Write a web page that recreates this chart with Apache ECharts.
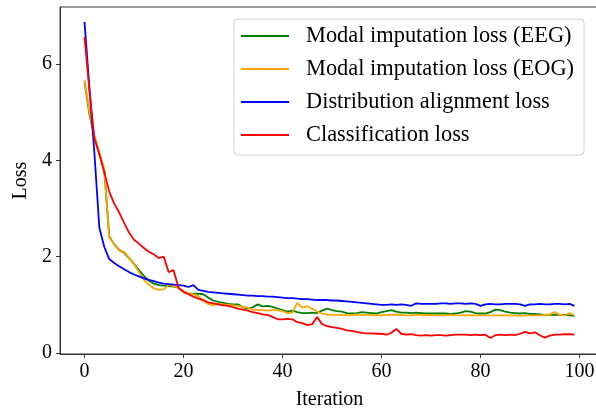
<!DOCTYPE html>
<html>
<head>
<meta charset="utf-8">
<script src="https://cdn.jsdelivr.net/npm/echarts@6/dist/echarts.min.js"></script>
<style>
  html, body { margin: 0; padding: 0; background: #fff; }
  #chart { width: 596px; height: 412px; }
</style>
</head>
<body>
<div id="chart"></div>
<script>
// iteration index on the x axis (0..99)
const iterations = Array.from({ length: 100 }, (_, i) => i)

const eegLoss = [
  5.62, 4.95, 4.50, 4.15, 3.80, 2.42, 2.26, 2.14, 2.08, 1.97,
  1.85, 1.72, 1.60, 1.50, 1.44, 1.41, 1.40, 1.39, 1.38, 1.36,
  1.27, 1.24, 1.23, 1.23, 1.22, 1.15, 1.09, 1.06, 1.04, 1.02,
  1.01, 1.01, 0.95, 0.92, 0.95, 1.01, 0.97, 0.98, 0.96, 0.92,
  0.89, 0.86, 0.88, 0.85, 0.83, 0.83, 0.84, 0.83, 0.88, 0.92,
  0.89, 0.87, 0.86, 0.83, 0.82, 0.83, 0.85, 0.84, 0.83, 0.82,
  0.85, 0.87, 0.89, 0.86, 0.84, 0.84, 0.83, 0.84, 0.83, 0.82,
  0.82, 0.82, 0.82, 0.82, 0.81, 0.82, 0.84, 0.87, 0.86, 0.83,
  0.82, 0.82, 0.85, 0.90, 0.89, 0.86, 0.84, 0.83, 0.82, 0.83,
  0.81, 0.81, 0.80, 0.79, 0.79, 0.79, 0.79, 0.79, 0.78, 0.77
]

const eogLoss = [
  5.66, 5.00, 4.50, 4.15, 3.80, 2.40, 2.25, 2.13, 2.10, 1.98,
  1.85, 1.68, 1.52, 1.42, 1.34, 1.31, 1.32, 1.42, 1.39, 1.36,
  1.28, 1.24, 1.22, 1.18, 1.08, 1.02, 0.99, 1.03, 1.01, 1.00,
  0.99, 0.98, 0.96, 0.94, 0.90, 0.89, 0.89, 0.88, 0.89, 0.89,
  0.87, 0.83, 0.84, 1.04, 0.94, 0.97, 0.92, 0.86, 0.82, 0.80,
  0.79, 0.79, 0.79, 0.78, 0.79, 0.80, 0.79, 0.79, 0.79, 0.78,
  0.78, 0.79, 0.79, 0.80, 0.79, 0.78, 0.78, 0.79, 0.79, 0.78,
  0.79, 0.78, 0.78, 0.78, 0.79, 0.78, 0.78, 0.78, 0.78, 0.78,
  0.78, 0.78, 0.78, 0.78, 0.78, 0.78, 0.78, 0.78, 0.77, 0.78,
  0.78, 0.78, 0.78, 0.79, 0.80, 0.85, 0.79, 0.78, 0.83, 0.78
]

const alignLoss = [
  6.87, 5.50, 4.15, 2.60, 2.20, 1.95, 1.87, 1.80, 1.74, 1.68,
  1.63, 1.59, 1.55, 1.52, 1.49, 1.46, 1.44, 1.43, 1.42, 1.41,
  1.40, 1.37, 1.41, 1.31, 1.29, 1.27, 1.26, 1.25, 1.24, 1.23,
  1.22, 1.21, 1.20, 1.19, 1.19, 1.18, 1.18, 1.17, 1.17, 1.16,
  1.15, 1.14, 1.14, 1.13, 1.12, 1.12, 1.11, 1.10, 1.10, 1.10,
  1.09, 1.09, 1.08, 1.07, 1.06, 1.05, 1.04, 1.03, 1.02, 1.01,
  1.00, 1.00, 1.01, 1.00, 1.01, 1.00, 0.98, 1.03, 1.02, 1.02,
  1.02, 1.02, 1.03, 1.03, 1.02, 1.03, 1.03, 1.02, 1.03, 1.02,
  0.98, 1.01, 1.02, 1.01, 1.01, 1.02, 1.02, 1.02, 1.01, 0.98,
  1.01, 1.01, 1.02, 1.01, 1.01, 1.02, 1.02, 1.01, 1.02, 0.98
]

const clsLoss = [
  6.56, 5.45, 4.45, 4.12, 3.75, 3.35, 3.10, 2.92, 2.70, 2.50,
  2.35, 2.27, 2.18, 2.10, 2.05, 1.97, 2.00, 1.68, 1.72, 1.35,
  1.27, 1.22, 1.17, 1.13, 1.10, 1.05, 1.03, 1.01, 0.99, 0.98,
  0.95, 0.92, 0.90, 0.88, 0.85, 0.83, 0.80, 0.79, 0.75, 0.70,
  0.70, 0.71, 0.70, 0.64, 0.62, 0.58, 0.60, 0.75, 0.60, 0.56,
  0.54, 0.52, 0.50, 0.47, 0.46, 0.44, 0.42, 0.41, 0.41, 0.40,
  0.40, 0.38, 0.42, 0.50, 0.40, 0.38, 0.39, 0.37, 0.36, 0.37,
  0.36, 0.37, 0.37, 0.36, 0.37, 0.38, 0.38, 0.38, 0.37, 0.38,
  0.37, 0.38, 0.31, 0.37, 0.38, 0.37, 0.38, 0.37, 0.40, 0.44,
  0.41, 0.43, 0.37, 0.32, 0.36, 0.38, 0.38, 0.39, 0.39, 0.38
]

const seriesNames = [
  'Modal imputation loss (EEG)',
  'Modal imputation loss (EOG)',
  'Distribution alignment loss',
  'Classification loss'
]
const seriesColors = ['#008000', '#ffa500', '#0000ff', '#ff0000']
const xTicks = [0, 20, 40, 60, 80, 100]
const yTicks = [0, 2, 4, 6]

const font = 'Liberation Serif, Times New Roman, serif'
const chart = echarts.init(document.getElementById('chart'))

const pairs = vals => iterations.map((x, i) => [x, vals[i]])

chart.setOption({
  animation: false,
  grid: {
    left: 60, right: -3, top: 7, bottom: 58,
    show: true, borderColor: '#333', borderWidth: 1,
    outerBoundsMode: 'none'
  },
  xAxis: {
    type: 'value',
    min: -4.95,
    max: 103.95,
    name: 'Iteration',
    nameLocation: 'middle',
    nameGap: 36,
    nameTextStyle: { fontFamily: font, fontSize: 20, color: '#000' },
    axisLine: { onZero: false, lineStyle: { color: '#333', width: 1 } },
    axisTick: { length: 4, lineStyle: { color: '#333' }, customValues: xTicks },
    axisLabel: { fontFamily: font, fontSize: 20, color: '#000', margin: 8, customValues: xTicks },
    splitLine: { show: false }
  },
  yAxis: {
    type: 'value',
    min: -0.02,
    max: 7.18,
    name: 'Loss',
    nameLocation: 'middle',
    nameGap: 29,
    nameTextStyle: { fontFamily: font, fontSize: 20, color: '#000' },
    axisLine: { show: true, onZero: false, lineStyle: { color: '#333', width: 1 } },
    axisTick: { show: true, length: 4, lineStyle: { color: '#333' }, customValues: yTicks },
    axisLabel: { fontFamily: font, fontSize: 20, color: '#000', margin: 8, customValues: yTicks },
    splitLine: { show: false }
  },
  legend: {
    orient: 'vertical',
    left: 234,
    top: 19,
    padding: [6, 10, 9, 7],
    icon: 'rect',
    itemWidth: 48,
    itemHeight: 2,
    itemGap: 11,
    backgroundColor: '#fff',
    borderColor: '#d0d0d0',
    borderWidth: 1,
    borderRadius: 4,
    textStyle: { fontFamily: font, fontSize: 22.4, color: '#000', lineHeight: 22, padding: [0, 0, 0, 12] },
    data: seriesNames
  },
  series: [eegLoss, eogLoss, alignLoss, clsLoss].map((vals, k) => ({
    name: seriesNames[k],
    type: 'line',
    data: pairs(vals),
    symbol: 'none',
    lineStyle: { color: seriesColors[k], width: 1.8 },
    itemStyle: { color: seriesColors[k] }
  }))
})
</script>
</body>
</html>
